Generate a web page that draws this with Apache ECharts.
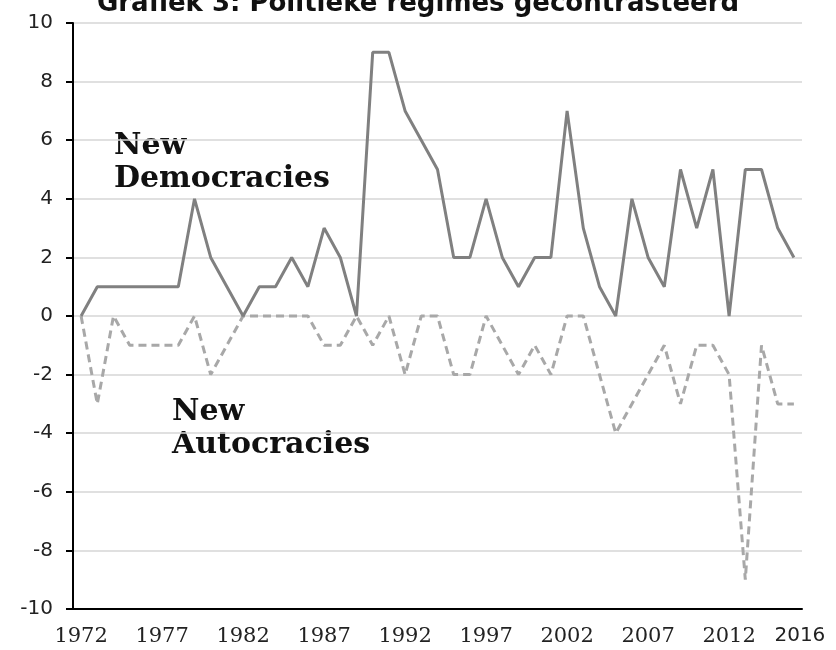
<!DOCTYPE html>
<html>
<head>
<meta charset="utf-8">
<script src="https://cdn.jsdelivr.net/npm/echarts@6/dist/echarts.min.js"></script>
<style>
  html, body { margin: 0; padding: 0; background: #fff; }
  #main { width: 836px; height: 650px; }
</style>
</head>
<body>
<div id="main"></div>
<script>
const years = [];
for (let y = 1972; y <= 2016; y++) years.push(String(y));

const newDemocracies = [
  0, 1, 1, 1, 1, 1, 1, 4, 2, 1,
  0, 1, 1, 2, 1, 3, 2, 0, 9, 9,
  7, 6, 5, 2, 2, 4, 2, 1, 2, 2,
  7, 3, 1, 0, 4, 2, 1, 5, 3, 5,
  0, 5, 5, 3, 2
];

const newAutocracies = [
  0, -3, 0, -1, -1, -1, -1, 0, -2, -1,
  0, 0, 0, 0, 0, -1, -1, 0, -1, 0,
  -2, 0, 0, -2, -2, 0, -1, -2, -1, -2,
  0, 0, -2, -4, -3, -2, -1, -3, -1, -1,
  -2, -9, -1, -3, -3
];

const yTicks = { min: -10, max: 10, step: 2 };
const titleText = 'Grafiek 3: Politieke regimes gecontrasteerd';
const demLabel = 'New\nDemocracies';
const autLabel = 'New\nAutocracies';

const chart = echarts.init(document.getElementById('main'), null, { renderer: 'canvas' });

chart.setOption({
  backgroundColor: '#fff',
  animation: false,
  title: {
    text: titleText,
    left: 'center',
    top: -14,
    textStyle: {
      fontFamily: 'DejaVu Sans',
      fontWeight: 'bold',
      fontSize: 26,
      color: '#111'
    }
  },
  grid: { left: 73, right: 34, top: 23, bottom: 41 },
  xAxis: {
    type: 'category',
    data: years,
    boundaryGap: true,
    axisLine: { onZero: false, lineStyle: { color: '#000', width: 2 } },
    axisTick: { interval: 4, length: 6, lineStyle: { color: '#000', width: 2 } },
    axisLabel: {
      interval: 4,
      showMaxLabel: true,
      margin: 17,
      fontFamily: 'DejaVu Serif',
      fontSize: 21,
      color: '#222',
      formatter: (v) => v === '2016' ? '{s|2016}' : v,
      rich: {
        s: { fontFamily: 'DejaVu Sans', fontSize: 20, color: '#222', padding: [0, 0, 0, 12] }
      }
    },
    splitLine: { show: false }
  },
  yAxis: {
    type: 'value',
    min: yTicks.min,
    max: yTicks.max,
    interval: yTicks.step,
    axisLine: { show: true, lineStyle: { color: '#000', width: 2 } },
    axisTick: { show: true, length: 7, lineStyle: { color: '#000', width: 2 } },
    axisLabel: {
      margin: 20,
      fontFamily: 'DejaVu Sans',
      fontSize: 20,
      color: '#222'
    },
    splitLine: { lineStyle: { color: '#d6d6d6', width: 1.5 } }
  },
  graphic: [
    {
      type: 'text',
      left: 114,
      top: 130,
      style: {
        text: demLabel,
        font: 'bold 30px "DejaVu Serif"',
        lineHeight: 33,
        fill: '#111'
      }
    },
    {
      type: 'text',
      left: 172,
      top: 396,
      style: {
        text: autLabel,
        font: 'bold 30px "DejaVu Serif"',
        lineHeight: 33,
        fill: '#111'
      }
    }
  ],
  series: [
    {
      name: 'New Autocracies',
      type: 'line',
      data: newAutocracies,
      symbol: 'none',
      lineStyle: { color: '#a8a8a8', width: 3, type: [8, 5] },
      z: 2
    },
    {
      name: 'New Democracies',
      type: 'line',
      data: newDemocracies,
      symbol: 'none',
      lineStyle: { color: '#808080', width: 3 },
      z: 3
    }
  ]
});
</script>
</body>
</html>
